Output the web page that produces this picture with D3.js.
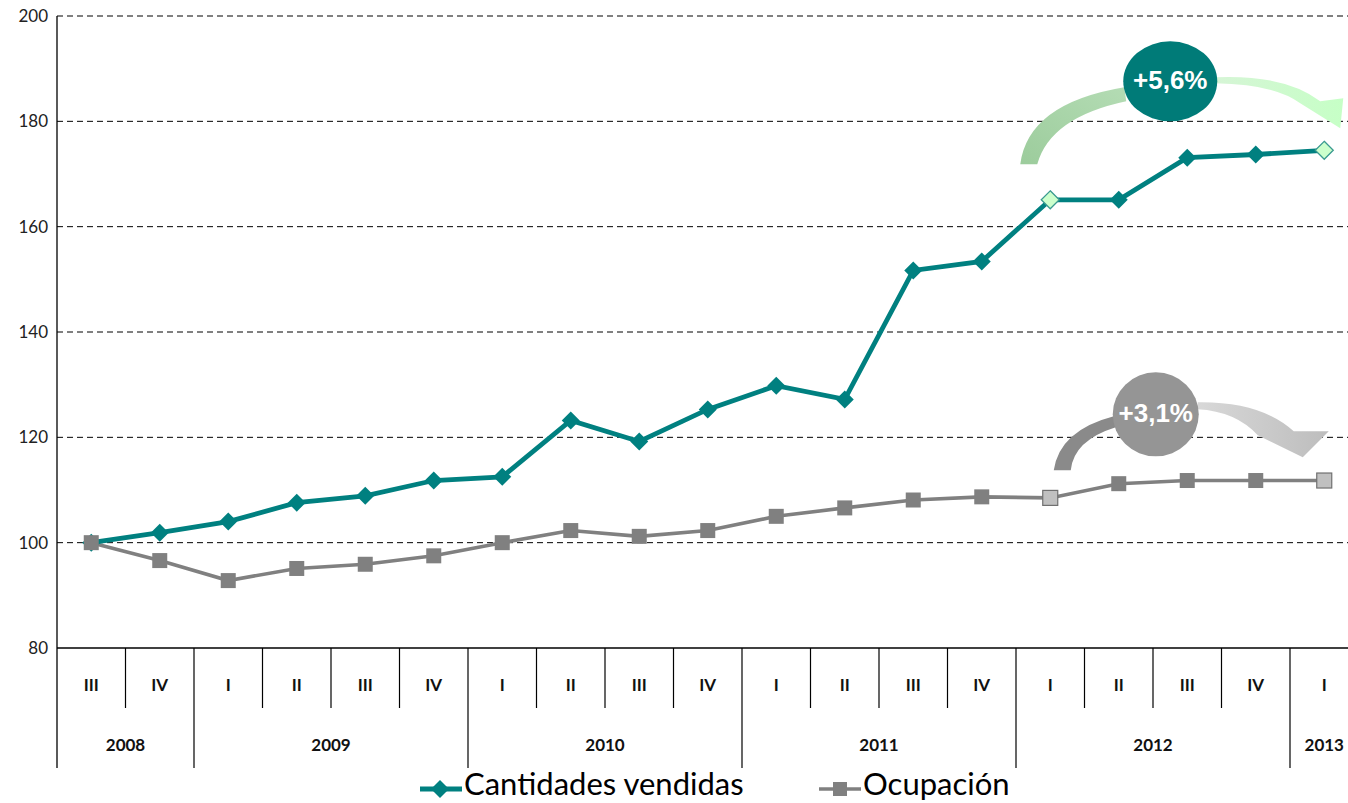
<!DOCTYPE html>
<html>
<head>
<meta charset="utf-8">
<script src="https://cdn.jsdelivr.net/npm/d3@7"></script>
<style>
  body { margin: 0; background: #fff; }
  svg { display: block; font-family: Lato, "Liberation Sans", sans-serif; }
</style>
</head>
<body>
<div id="chart"></div>
<script>
// quarters and years
const quarters = ['III','IV','I','II','III','IV','I','II','III','IV','I','II','III','IV','I','II','III','IV','I'];
const years = [
  {label: '2008', start: 0, end: 2},
  {label: '2009', start: 2, end: 6},
  {label: '2010', start: 6, end: 10},
  {label: '2011', start: 10, end: 14},
  {label: '2012', start: 14, end: 18},
  {label: '2013', start: 18, end: 19}
];
const cantidades = [100, 101.9, 104, 107.6, 108.9, 111.8, 112.5, 123.2, 119.2, 125.3, 129.8, 127.2, 151.7, 153.4, 165.1, 165.1, 173.1, 173.7, 174.5];
const ocupacion = [100, 96.6, 92.8, 95.1, 95.9, 97.5, 100, 102.3, 101.2, 102.3, 105, 106.6, 108.1, 108.7, 108.5, 111.2, 111.8, 111.8, 111.8];
const yTicks = [80, 100, 120, 140, 160, 180, 200];
const highlighted = [14, 18]; // I 2012 and I 2013
const changes = {cantidades: '+5,6%', ocupacion: '+3,1%'};

const W = 1348, H = 803;
const margin = {top: 16, left: 57};
const plotH = 648 - margin.top;
const bandW = 68.5;

const svg = d3.select('#chart').append('svg').attr('width', W).attr('height', H);

const x = d3.scaleBand().domain(d3.range(quarters.length))
  .range([margin.left, margin.left + bandW * quarters.length]).padding(0);
const y = d3.scaleLinear().domain([80, 200]).range([margin.top + plotH, margin.top]);
const cx = i => x(i) + x.bandwidth() / 2;

const defs = svg.append('defs');
const g1 = defs.append('linearGradient').attr('id', 'gLeft').attr('x1', 0).attr('y1', 1).attr('x2', 1).attr('y2', 0);
g1.append('stop').attr('offset', 0).attr('stop-color', '#9ccc9c');
g1.append('stop').attr('offset', 1).attr('stop-color', '#b4dcb4');
const g2 = defs.append('linearGradient').attr('id', 'gRight').attr('x1', 0).attr('y1', 0).attr('x2', 1).attr('y2', 0);
g2.append('stop').attr('offset', 0).attr('stop-color', '#d6f5d6');
g2.append('stop').attr('offset', 1).attr('stop-color', '#c6ffc6');
const g3 = defs.append('linearGradient').attr('id', 'gGray').attr('x1', 0).attr('y1', 0).attr('x2', 1).attr('y2', 0);
g3.append('stop').attr('offset', 0).attr('stop-color', '#d8d8d8');
g3.append('stop').attr('offset', 1).attr('stop-color', '#bdbdbd');

// gridlines
svg.append('g').selectAll('line')
  .data(yTicks.filter(d => d > 80))
  .join('line')
  .attr('x1', margin.left).attr('x2', W)
  .attr('y1', d => y(d)).attr('y2', d => y(d))
  .attr('stroke', '#000').attr('stroke-width', 1).attr('stroke-dasharray', '6,4');

// y axis
const yAxis = svg.append('g').attr('transform', `translate(${margin.left},0)`)
  .call(d3.axisLeft(y).tickValues(yTicks).tickSize(0).tickPadding(9));
yAxis.select('.domain').remove();
yAxis.selectAll('text').attr('font-size', 17).attr('fill', '#222')
  .attr('font-family', 'Lato, sans-serif');

// axis lines
svg.append('line').attr('x1', margin.left).attr('x2', margin.left)
  .attr('y1', margin.top).attr('y2', 768).attr('stroke', '#000').attr('stroke-width', 1.3);
svg.append('line').attr('x1', margin.left).attr('x2', W)
  .attr('y1', y(80)).attr('y2', y(80)).attr('stroke', '#000').attr('stroke-width', 1.3);

// quarter separators and labels
const yearStarts = new Set(years.map(d => d.start));
svg.append('g').selectAll('line')
  .data(d3.range(1, quarters.length).filter(i => !yearStarts.has(i)))
  .join('line')
  .attr('x1', d => x(d)).attr('x2', d => x(d))
  .attr('y1', y(80)).attr('y2', 708)
  .attr('stroke', '#000').attr('stroke-width', 1.2);
svg.append('g').selectAll('line')
  .data(years.filter(d => d.start > 0))
  .join('line')
  .attr('x1', d => x(d.start)).attr('x2', d => x(d.start))
  .attr('y1', y(80)).attr('y2', 768)
  .attr('stroke', '#000').attr('stroke-width', 1.2);

svg.append('g').selectAll('text')
  .data(quarters)
  .join('text')
  .attr('x', (d, i) => cx(i)).attr('y', 691)
  .attr('text-anchor', 'middle').attr('font-size', 17).attr('font-weight', 'bold')
  .attr('fill', '#111')
  .text(d => d);
svg.append('g').selectAll('text')
  .data(years)
  .join('text')
  .attr('x', d => (x(d.start) + x(d.start) + bandW * (d.end - d.start)) / 2)
  .attr('y', 751)
  .attr('text-anchor', 'middle').attr('font-size', 17).attr('font-weight', 'bold')
  .attr('fill', '#111')
  .text(d => d.label);

// annotations (behind lines)
function annotation(opts) {
  const g = svg.append('g').attr('transform', `translate(${opts.cx},${opts.cy})`);
  g.append('path').attr('d', opts.left).attr('fill', opts.leftFill);
  g.append('path').attr('d', opts.right).attr('fill', opts.rightFill);
  g.append('ellipse').attr('rx', opts.rx).attr('ry', opts.ry).attr('fill', opts.fill);
  g.append('text').attr('y', 8)
    .attr('text-anchor', 'middle').attr('font-size', 26).attr('font-weight', 'bold')
    .attr('font-family', '"Liberation Sans", Arial, sans-serif')
    .attr('fill', '#fff').text(opts.text);
}

// green annotation, anchored between I 2012 and I 2013
annotation({
  cx: (cx(14) + cx(18)) / 2 - 17, cy: y(180) - 40, rx: 47, ry: 40,
  fill: '#007b78', text: changes.cantidades,
  left: 'M-150,83 Q-142,22 -46,6 L-44,20 Q-120,36 -133,83 Z',
  leftFill: 'url(#gLeft)',
  right: 'M45,-4 Q115,-7 150,20 L173,17 L170,47 L130,22 Q105,3 45,2 Z',
  rightFill: 'url(#gRight)'
});
// gray annotation
annotation({
  cx: cx(15) + 37, cy: y(120) - 23, rx: 43, ry: 42,
  fill: '#959595', text: changes.ocupacion,
  left: 'M-102,56 Q-96,16 -42,2 L-40,13 Q-82,26 -85,56 Z',
  leftFill: '#8a8a8a',
  right: 'M42,-12 Q105,-13 138,17 L173,17 L147,43 L102,21 Q80,-3 42,-5 Z',
  rightFill: 'url(#gGray)'
});

// lines
const line = d3.line().x((d, i) => cx(i)).y(d => y(d));
svg.append('path').datum(ocupacion).attr('d', line)
  .attr('fill', 'none').attr('stroke', '#808080').attr('stroke-width', 3.6);
svg.append('path').datum(cantidades).attr('d', line)
  .attr('fill', 'none').attr('stroke', '#008080').attr('stroke-width', 4.8);

const diamondPath = 'M0,-9 L9,0 L0,9 L-9,0 Z';

// cantidades markers
svg.append('g').selectAll('path')
  .data(cantidades)
  .join('path')
  .attr('d', diamondPath)
  .attr('transform', (d, i) => `translate(${cx(i)},${y(d)})`)
  .attr('fill', (d, i) => highlighted.includes(i) ? '#ccffcc' : '#008080')
  .attr('stroke', (d, i) => highlighted.includes(i) ? '#3a9a90' : 'none')
  .attr('stroke-width', 1.3);

// ocupacion markers
svg.append('g').selectAll('rect')
  .data(ocupacion)
  .join('rect')
  .attr('x', (d, i) => cx(i) - 7.5).attr('y', d => y(d) - 7.5)
  .attr('width', 15).attr('height', 15)
  .attr('fill', (d, i) => highlighted.includes(i) ? '#c0c0c0' : '#808080')
  .attr('stroke', (d, i) => highlighted.includes(i) ? '#707070' : 'none')
  .attr('stroke-width', 1.2);

// legend
const legend = svg.append('g').attr('transform', 'translate(0,789)');
const items = [
  {label: 'Cantidades vendidas', color: '#008080', x0: 420, marker: 'diamond'},
  {label: 'Ocupación', color: '#808080', x0: 819, marker: 'square'}
];
items.forEach(it => {
  legend.append('line').attr('x1', it.x0).attr('x2', it.x0 + 42).attr('y1', 0).attr('y2', 0)
    .attr('stroke', it.color).attr('stroke-width', it.marker === 'diamond' ? 4.8 : 3.6);
  if (it.marker === 'diamond') {
    legend.append('path').attr('d', diamondPath).attr('transform', `translate(${it.x0 + 20},0)`)
      .attr('fill', it.color);
  } else {
    legend.append('rect').attr('x', it.x0 + 14).attr('y', -7).attr('width', 14).attr('height', 14)
      .attr('fill', it.color);
  }
  legend.append('text').attr('x', it.x0 + 44).attr('y', 6)
    .attr('font-size', 31).attr('fill', '#000').text(it.label);
});
</script>
</body>
</html>
